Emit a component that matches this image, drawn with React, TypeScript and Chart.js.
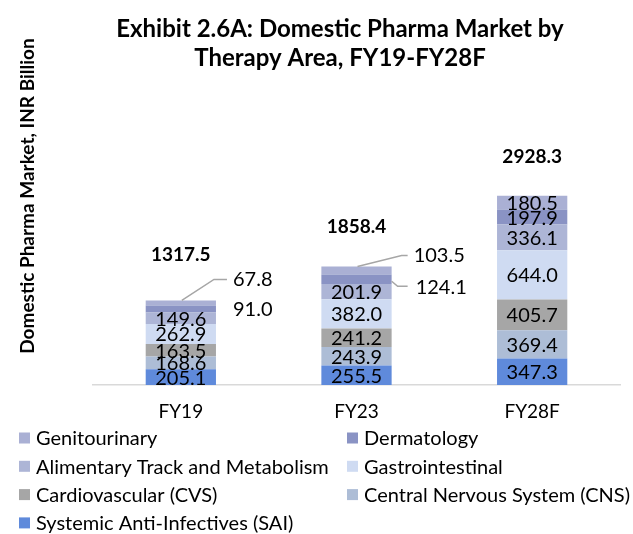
import React, { useEffect, useRef } from "react";
import { Chart, registerables } from "chart.js";

Chart.register(...registerables);

const categories = ["FY19", "FY23", "FY28F"];
const totals = [1317.5, 1858.4, 2928.3];

const seriesNames = [
  "Systemic Anti-Infectives (SAI)",
  "Central Nervous System (CNS)",
  "Cardiovascular (CVS)",
  "Gastrointestinal",
  "Alimentary Track and Metabolism",
  "Dermatology",
  "Genitourinary",
];
const sai = [205.1, 255.5, 347.3];
const cns = [168.6, 243.9, 369.4];
const cvs = [163.5, 241.2, 405.7];
const gastro = [262.9, 382.0, 644.0];
const alimentary = [149.6, 201.9, 336.1];
const dermatology = [91.0, 124.1, 197.9];
const genitourinary = [67.8, 103.5, 180.5];

const seriesValues = [sai, cns, cvs, gastro, alimentary, dermatology, genitourinary];
const seriesColors = ["#5F8ADB", "#ADBDD6", "#A6A6A6", "#CFDBF2", "#ADB5D6", "#8A93C4", "#AAB0D4"];

// legend order (rows left→right)
const legendOrder = [6, 5, 4, 3, 2, 1, 0];

const FONT = "Lato, 'Open Sans', sans-serif";

const overlayPlugin = {
  id: "overlay",
  afterDatasetsDraw(chart: any) {
    const ctx = chart.ctx;
    ctx.save();
    ctx.font = `20px ${FONT}`;
    ctx.fillStyle = "#000";
    ctx.textBaseline = "middle";
    ctx.strokeStyle = "#A6A6A6";
    ctx.lineWidth = 1.5;
    const n = chart.data.datasets.length;
    for (let d = 0; d < n; d++) {
      const meta = chart.getDatasetMeta(d);
      meta.data.forEach((bar: any, j: number) => {
        const v = chart.data.datasets[d].data[j];
        const txt = v.toFixed(1);
        const cy = (bar.y + bar.base) / 2;
        const outside = j < 2 && d >= 5;
        const right = bar.x + bar.width / 2;
        ctx.textAlign = outside ? "left" : "center";
        if (!outside) {
          ctx.fillText(txt, bar.x, cy + 1);
        } else if (d === 6) {
          // top segment: leader line from the top centre of the bar
          const ly = bar.y - (j === 0 ? 21 : 11);
          const lx = right + (j === 0 ? 17 : 22);
          const elbow = right + (j === 0 ? -2 : 10);
          ctx.beginPath();
          ctx.moveTo(bar.x + 1, bar.y);
          ctx.lineTo(elbow, ly);
          ctx.lineTo(lx - 6, ly);
          ctx.stroke();
          ctx.fillText(txt, lx, ly);
        } else if (j === 0) {
          ctx.fillText(txt, right + 17, cy);
        } else {
          const ly = cy + 7;
          ctx.beginPath();
          ctx.moveTo(right, cy + 2);
          ctx.lineTo(right + 6, ly);
          ctx.lineTo(right + 16, ly);
          ctx.stroke();
          ctx.fillText(txt, right + 24, ly + 1);
        }
      });
    }
    // totals
    const topMeta = chart.getDatasetMeta(n - 1);
    const totalGap = [46, 40, 39];
    ctx.font = `bold 19px ${FONT}`;
    ctx.textAlign = "center";
    topMeta.data.forEach((bar: any, j: number) => {
      ctx.fillText(totals[j].toFixed(1), bar.x, bar.y - totalGap[j]);
    });
    ctx.restore();
  },
  afterDraw(chart: any) {
    const ctx = chart.ctx;
    ctx.save();
    ctx.fillStyle = "#000";
    // title
    ctx.font = `bold 24px ${FONT}`;
    ctx.textAlign = "center";
    ctx.textBaseline = "middle";
    ctx.fillText("Exhibit 2.6A: Domestic Pharma Market by", 340, 29);
    ctx.fillText("Therapy Area, FY19-FY28F", 340, 58);
    // y title
    ctx.save();
    ctx.translate(28, 196);
    ctx.rotate(-Math.PI / 2);
    ctx.font = `bold 19px ${FONT}`;
    ctx.fillText("Domestic Pharma Market, INR Billion", 0, 0);
    ctx.restore();
    // legend
    ctx.font = `20px ${FONT}`;
    ctx.textAlign = "left";
    legendOrder.forEach((si, k) => {
      const row = Math.floor(k / 2);
      const col = k % 2;
      const y = 438 + row * 28.3;
      const bx = col === 0 ? 19 : 347;
      ctx.fillStyle = seriesColors[si];
      ctx.fillRect(bx, y - 5.5, 11, 11);
      ctx.fillStyle = "#000";
      ctx.fillText(seriesNames[si], bx + 17, y + 1);
    });
    ctx.restore();
  },
};

export default function App() {
  const ref = useRef<HTMLCanvasElement>(null);
  useEffect(() => {
    const chart = new Chart(ref.current!, {
      type: "bar",
      data: {
        labels: categories,
        datasets: seriesValues.map((vals, i) => ({
          label: seriesNames[i],
          data: vals,
          backgroundColor: seriesColors[i],
          borderWidth: 0,
          categoryPercentage: 1,
          barPercentage: 0.4,
        })),
      },
      options: {
        responsive: false,
        animation: false,
        layout: { padding: { left: 93, right: 13, top: 118, bottom: 109 } },
        plugins: { legend: { display: false }, tooltip: { enabled: false }, title: { display: false } },
        scales: {
          x: {
            stacked: true,
            grid: { display: false, drawTicks: false },
            border: { display: true, color: "#D9D9D9", width: 1.5 },
            ticks: { color: "#000", font: { family: FONT, size: 19 }, padding: 15 },
            afterFit: (s: any) => {
              s.height = 40;
            },
          },
          y: { stacked: true, display: false, min: 0, max: 3500 },
        },
      },
      plugins: [overlayPlugin],
    });
    return () => chart.destroy();
  }, []);
  return (
    <div style={{ position: "fixed", left: 0, top: 0, width: 633, height: 534, background: "#fff" }}>
      <canvas ref={ref} width={633} height={534} />
    </div>
  );
}
